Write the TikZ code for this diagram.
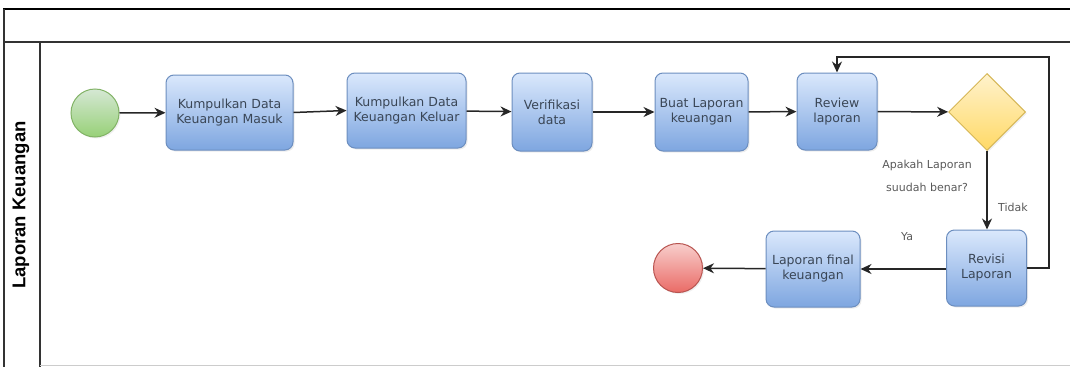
\documentclass[tikz,border=0pt]{standalone}
\usepackage{fontspec}
\newfontfamily\boxfont{DejaVu Sans}
\newfontfamily\lanefont{Liberation Sans}
\usetikzlibrary{arrows.meta,shapes.geometric,shadows}
\definecolor{boxtop}{HTML}{DAE8FC}
\definecolor{boxbot}{HTML}{7EA6E0}
\definecolor{boxline}{HTML}{6C8EBF}
\definecolor{txt}{HTML}{3A4656}
\definecolor{gtop}{HTML}{D5E8D4}
\definecolor{gbot}{HTML}{97D077}
\definecolor{gline}{HTML}{82B366}
\definecolor{rtop}{HTML}{F8CECC}
\definecolor{rbot}{HTML}{EA6B66}
\definecolor{rline}{HTML}{B85450}
\definecolor{ytop}{HTML}{FFF2CC}
\definecolor{ybot}{HTML}{FFD966}
\definecolor{yline}{HTML}{D6B656}
\tikzset{
  task/.style={rectangle, rounded corners=8pt, draw=boxline, line width=1pt,
    top color=boxtop, bottom color=boxbot, align=center,
    font=\boxfont\fontsize{12.5}{15}\selectfont, text=txt, inner sep=0pt,
    drop shadow={opacity=0.15, shadow xshift=1.5pt, shadow yshift=-1.5pt}},
  flow/.style={draw=black!85, line width=1.5pt, -{Stealth[length=11pt,width=10pt]}},
  lbl/.style={font=\boxfont\fontsize{11}{13}\selectfont, text=black!65, inner sep=0pt},
  frame/.style={draw=black!80, line width=1.2pt},
  evshadow/.style={drop shadow={opacity=0.12, shadow xshift=1.5pt, shadow yshift=-1.5pt}}
}
\begin{document}
\begin{tikzpicture}[x=1pt,y=-1pt]
\useasboundingbox (0,0) rectangle (1070,367);
% frame
\draw[black, line width=2.2pt] (3,9) -- (1070,9);
\draw[frame] (4,9) -- (4,367);
\draw[frame] (4,42) -- (1070,42);
\draw[frame] (40,42) -- (40,367);
\draw[black!20, line width=0.8pt] (40,365) -- (1070,365);
\node[rotate=90, font=\lanefont\bfseries\fontsize{18.5}{18.5}\selectfont] (lane) at (21,205) {Laporan Keuangan};
% events
\node[circle, minimum size=48pt, inner sep=0pt, draw=gline, line width=1pt,
  top color=gtop, bottom color=gbot, evshadow] (start) at (95,113) {};
\node[circle, minimum size=49pt, inner sep=0pt, draw=rline, line width=1pt,
  top color=rtop, bottom color=rbot, evshadow] (end) at (678,268) {};
% tasks
\node[task, minimum width=127pt, minimum height=75pt] (b1) at (229.5,112.5) {Kumpulkan Data\\Keuangan Masuk};
\node[task, minimum width=119pt, minimum height=75pt] (b2) at (406.5,110.5) {Kumpulkan Data\\Keuangan Keluar};
\node[task, minimum width=80pt, minimum height=78pt] (b3) at (552,112) {Verifikasi\\data};
\node[task, minimum width=93pt, minimum height=78pt] (b4) at (701.5,112) {Buat Laporan\\keuangan};
\node[task, minimum width=80pt, minimum height=77pt] (b5) at (837,111.5) {Review\\laporan};
\node[diamond, minimum width=77pt, minimum height=77pt, inner sep=0pt, aspect=1,
  draw=yline, line width=1pt, top color=ytop, bottom color=ybot, evshadow] (dia) at (987,112) {};
\node[task, minimum width=80pt, minimum height=76pt] (rev) at (986.5,268) {Revisi\\Laporan};
\node[task, minimum width=94pt, minimum height=76pt] (fin) at (813,269) {Laporan final\\keuangan};
% labels
\node[lbl] (q1) at (927,165) {Apakah Laporan};
\node[lbl] (q2) at (927,187) {suudah benar?};
\node[lbl] (tidak) at (1013,207) {Tidak};
\node[lbl] (ya) at (907,237) {Ya};
% connectors
\coordinate (loopc) at (1049,57);
\draw[flow] (start) -- (b1);
\draw[flow] (b1.east) -- (b2.west);
\draw[flow] (b2) -- (b3);
\draw[flow] (b3) -- (b4);
\draw[flow] (b4) -- (b5);
\draw[flow] (b5) -- (dia);
\draw[flow] (dia.south) -- (dia.south |- rev.north);
\draw[flow] (rev.west |- fin) -- (fin.east);
\draw[flow] (fin) -- (end);
\draw[flow] (rev.east) -| (loopc) -| (b5.north);
\end{tikzpicture}
\end{document}
